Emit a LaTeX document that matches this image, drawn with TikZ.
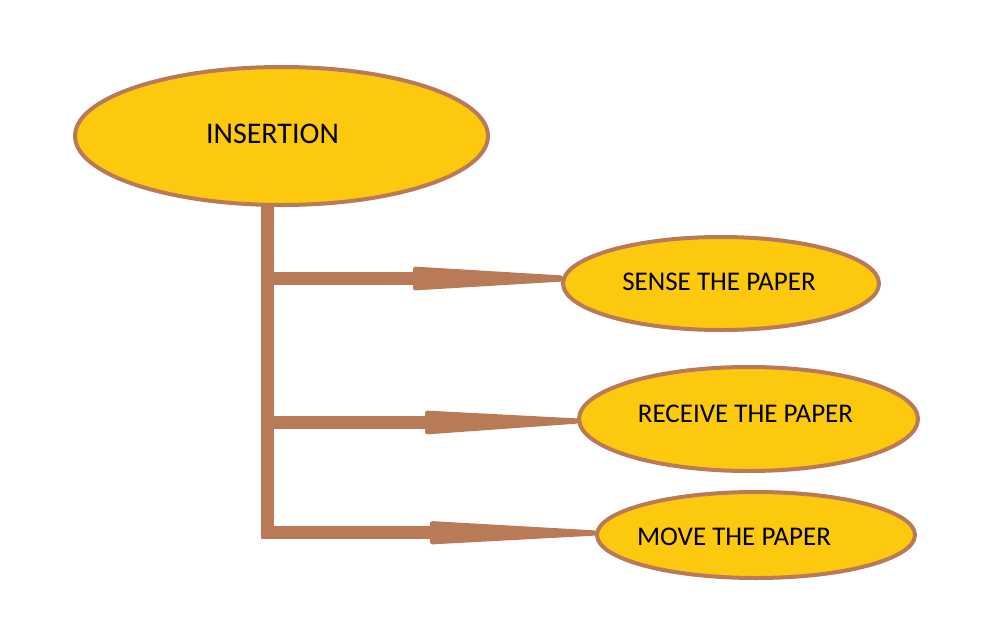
\documentclass[tikz,border=0pt]{standalone}
\usepackage{fontspec}
\setmainfont{Carlito}
\usetikzlibrary{shapes.geometric,calc}
\definecolor{gold}{HTML}{FDC90F}
\definecolor{brn}{HTML}{B97A57}
\begin{document}
\begin{tikzpicture}[x=1pt,y=-1pt,
  oval/.style={ellipse,draw=brn,fill=gold,line width=4pt,inner sep=0pt,outer sep=0pt},
  lbl/.style={inner sep=0pt,text=black,font=\fontsize{27}{31}\selectfont},
  stem/.style={draw=brn,line width=13pt,line cap=butt,line join=miter},
  wedge/.style={fill=brn,rounded corners=2.5pt}]
\useasboundingbox (0,0) rectangle (997,627);
% ellipses
\node[oval,minimum width=413,minimum height=138] (ins) at (281.5,136) {};
\node[oval,minimum width=316,minimum height=93] (sense) at (721,283.5) {};
\node[oval,minimum width=339,minimum height=104] (recv) at (748.5,419) {};
\node[oval,minimum width=318,minimum height=86] (move) at (756,535) {};
% labels
\node[lbl,font=\fontsize{30}{34}\selectfont] (insT) at (272.5,134) {INSERTION};
\node[lbl] (senseT) at (719,281.5) {SENSE THE PAPER};
\node[lbl] (recvT) at (745.5,413.5) {RECEIVE THE PAPER};
\node[lbl] (moveT) at (734,536.5) {MOVE THE PAPER};
% connector points
\coordinate (tx) at (267,0);
\coordinate (top) at (ins.south -| tx);
\coordinate (b1) at (267,278.5);
\coordinate (b2) at (267,422.5);
\coordinate (w1) at (415,278.5);
\coordinate (w2) at (427,422.5);
\coordinate (w3) at (432,532.5);
% trunk and branches
\draw[stem] (top) |- (w3);
\draw[stem] (b1) -- (w1);
\draw[stem] (b2) -- (w2);
% tapering arrow heads
\fill[wedge] ($(w1)+(-2,-12)$) -- ($(w1 -| sense.west)+(0,-3)$) -- ($(w1 -| sense.west)+(0,3)$) -- ($(w1)+(-2,12)$) -- cycle;
\fill[wedge] ($(w2)+(-2,-12)$) -- ($(w2 -| recv.west)+(0,-4)$) -- ($(w2 -| recv.west)+(0,1)$) -- ($(w2)+(-2,12)$) -- cycle;
\fill[wedge] ($(w3)+(-2,-11.5)$) -- ($(w3 -| move.west)+(0,-2)$) -- ($(w3 -| move.west)+(0,3)$) -- ($(w3)+(-2,12)$) -- cycle;
\end{tikzpicture}
\end{document}
